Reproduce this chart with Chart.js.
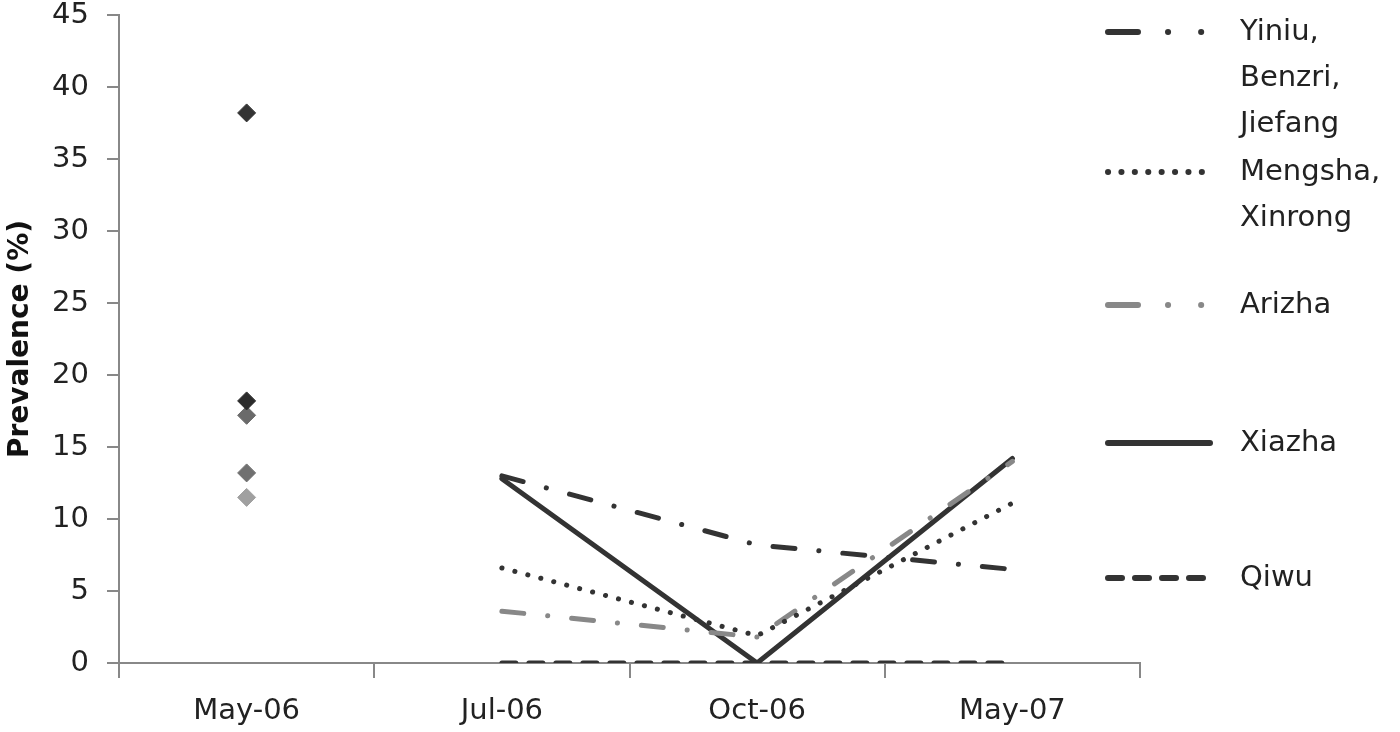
<!DOCTYPE html>
<html>
<head>
<meta charset="utf-8">
<script src="https://cdn.jsdelivr.net/npm/chart.js@4.4.0/dist/chart.umd.min.js"></script>
<style>
  html, body { margin: 0; padding: 0; background: #fff; }
  #wrap { width: 1400px; height: 732px; }
</style>
</head>
<body>
<div id="wrap"><canvas id="prevChart" width="1400" height="732"></canvas></div>
<script>
// dados
const periods = ["May-06", "Jul-06", "Oct-06", "May-07"];
const yTicks = [0, 5, 10, 15, 20, 25, 30, 35, 40, 45];

const yiniu = [null, 13.0, 8.2, 6.5];
const mengsha = [null, 6.6, 1.9, 11.1];
const arizha = [null, 3.6, 1.8, 14.0];
const xiazha = [null, 12.8, 0, 14.2];
const qiwu = [null, 0, 0, 0];

// pontos isolados em May-06
const may06Values = [38.2, 18.2, 17.2, 13.2, 11.5];
const may06Colors = ["#333333", "#2b2b2b", "#6a6a6a", "#707070", "#a0a0a0"];

const dashDot = [22, 24, 0.1, 24];
const legendDashDot = [30, 30, 0.1, 33, 0.1, 200];

const lineSeries = [
  { label: "Yiniu,\nBenzri,\nJiefang", data: yiniu, color: "#333333", dash: dashDot, legendDash: legendDashDot, legendY: 32 },
  { label: "Mengsha,\nXinrong", data: mengsha, color: "#333333", dash: [0.1, 13.3], legendDash: [0.1, 13.3], legendY: 172 },
  { label: "Arizha", data: arizha, color: "#888888", dash: dashDot, legendDash: legendDashDot, legendY: 305 },
  { label: "Xiazha", data: xiazha, color: "#333333", dash: [], legendDash: [], legendY: 443 },
  { label: "Qiwu", data: qiwu, color: "#333333", dash: [14, 13], legendDash: [14, 13], legendY: 578 }
];

const datasets = lineSeries.map(s => ({
  label: s.label,
  data: s.data,
  borderColor: s.color,
  backgroundColor: s.color,
  borderWidth: 5,
  borderDash: s.dash,
  borderCapStyle: "round",
  pointRadius: 0,
  fill: false,
  spanGaps: false,
  legendDash: s.legendDash,
  legendY: s.legendY
}));

may06Values.forEach((v, i) => {
  datasets.push({
    label: "may06_" + i,
    data: [v, null, null, null],
    showLine: false,
    pointStyle: "rectRot",
    pointRadius: 9,
    pointBackgroundColor: may06Colors[i],
    pointBorderColor: may06Colors[i],
    hiddenLegend: true
  });
});

// Legenda desenhada à direita
const sideLegend = {
  id: "sideLegend",
  afterDraw(chart) {
    const ctx = chart.ctx;
    ctx.save();
    ctx.font = "29px 'DejaVu Sans'";
    ctx.fillStyle = "#222";
    ctx.textBaseline = "middle";
    chart.data.datasets.forEach(ds => {
      if (ds.hiddenLegend) return;
      const y = ds.legendY;
      ctx.beginPath();
      ctx.strokeStyle = ds.borderColor;
      ctx.lineWidth = 6;
      ctx.lineCap = "round";
      ctx.setLineDash(ds.legendDash);
      ctx.moveTo(1108, y);
      ctx.lineTo(1210, y);
      ctx.stroke();
      ctx.setLineDash([]);
      ds.label.split("\n").forEach((t, k) => {
        ctx.fillText(t, 1240, y + k * 46);
      });
    });
    ctx.restore();
  }
};

const ctx = document.getElementById("prevChart").getContext("2d");
new Chart(ctx, {
  type: "line",
  data: { labels: periods, datasets: datasets },
  options: {
    responsive: false,
    animation: false,
    layout: { padding: { top: 15, right: 260, left: 0, bottom: 0 } },
    plugins: {
      legend: { display: false },
      tooltip: { enabled: false }
    },
    scales: {
      x: {
        offset: true,
        grid: { offset: true, drawOnChartArea: false, drawTicks: true, tickLength: 15, color: "#888", lineWidth: 2 },
        border: { color: "#888", width: 2 },
        ticks: { color: "#222", font: { family: "DejaVu Sans", size: 29 }, padding: 16, maxRotation: 0 },
        afterFit(scale) { scale.height = 69; }
      },
      y: {
        min: 0,
        max: 45,
        afterBuildTicks(scale) { scale.ticks = yTicks.map(v => ({ value: v })); },
        grid: { drawOnChartArea: false, drawTicks: true, tickLength: 12, color: "#888", lineWidth: 2 },
        border: { color: "#888", width: 2 },
        ticks: { color: "#222", font: { family: "DejaVu Sans", size: 29 }, padding: 18 },
        title: { display: true, text: "Prevalence (%)", color: "#111", font: { family: "DejaVu Sans", size: 28, weight: "bold" }, padding: { top: 4, bottom: 0 } },
        afterFit(scale) {
          scale.width = 119;
          scale.paddingTop = 0;
          scale.paddingBottom = 0;
        }
      }
    }
  },
  plugins: [sideLegend]
});
</script>
</body>
</html>
